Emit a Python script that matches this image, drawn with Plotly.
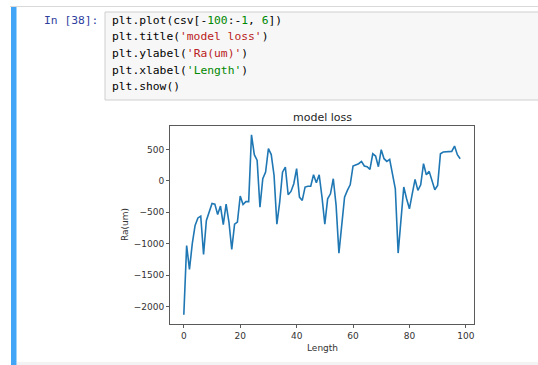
import plotly.graph_objects as go

# ---- data ----
length = list(range(99))
ra_um = [-2134, -1029, -1411, -1000, -710, -590, -560, -1170, -630, -500,
         -360, -370, -535, -400, -695, -370, -655, -1090, -690, -655,
         -240, -375, -330, -330, 735, 418, 327, -418, 35, 140,
         513, 420, 88, -690, -337, 140, 220, -220, -168, -45,
         195, -258, -311, -98, -85, -85, 98, -30, 98, -258,
         -690, -285, -205, 35, -390, -1150, -655, -258, -150, -62,
         237, 258, 274, 311, 237, 226, 183, 433, 396, 226,
         497, 354, 311, 343, 115, -125, -1150, -605, -98, -285,
         -445, -205, 25, -150, -62, 274, 98, 152, 8, -140,
         -72, 433, 460, 460, 470, 470, 555, 418, 354]
x_ticks = [0, 20, 40, 60, 80, 100]
y_ticks = [500, 0, -500, -1000, -1500, -2000]

title_text = "model loss"
ylabel = "Ra(um)"
xlabel = "Length"
prompt = "In [38]:"

W, H = 538, 365
L, R, T, B = 170, 474, 126, 324


def px(x):
    return (x - L) / (R - L)


def py(y):
    return (B - y) / (B - T)


fig = go.Figure()
fig.add_trace(go.Scatter(x=length, y=ra_um, mode="lines",
                         line=dict(color="#1f77b4", width=1.6),
                         hoverinfo="skip", showlegend=False))

axis_common = dict(showgrid=False, zeroline=False, showline=True, mirror=True,
                   linecolor="#5a5a5a", linewidth=1, ticks="outside", ticklen=3,
                   tickwidth=1, tickcolor="#5a5a5a",
                   tickfont=dict(family="DejaVu Sans", size=9, color="#333333"))

fig.update_layout(
    width=W, height=H,
    margin=dict(l=L, r=W - R, t=T, b=H - B, pad=0),
    paper_bgcolor="white", plot_bgcolor="white",
    xaxis=dict(range=[-4.9, 102.9], tickvals=x_ticks, **axis_common),
    yaxis=dict(range=[-2280, 875], tickvals=y_ticks, **axis_common),
)

shapes = []
# notebook cell top border
shapes.append(dict(type="line", xref="paper", yref="paper",
                   x0=px(10), x1=px(545), y0=py(6.5), y1=py(6.5),
                   line=dict(color="#d9d9d9", width=1)))
# selected-cell blue bar
shapes.append(dict(type="rect", xref="paper", yref="paper",
                   x0=px(11), x1=px(16.5), y0=py(7), y1=py(370),
                   fillcolor="#42A5F5", line=dict(width=0), layer="above"))
# code input box
shapes.append(dict(type="rect", xref="paper", yref="paper",
                   x0=px(105), x1=px(545), y0=py(12), y1=py(100),
                   fillcolor="#f7f7f7", line=dict(color="#cfcfcf", width=1)))
# bottom faint strip
shapes.append(dict(type="rect", xref="paper", yref="paper",
                   x0=px(17), x1=px(545), y0=py(362), y1=py(370),
                   fillcolor="#f3f3f3", line=dict(width=0)))
fig.update_layout(shapes=shapes)

mono = "DejaVu Sans Mono, Liberation Mono, monospace"
K = "#000000"
NUM = "#008800"
STR = "#BA2121"
GRN = "#008800"
code_lines = [
    f"<span style='color:{K}'>plt.plot(csv[-</span><span style='color:{NUM}'>100</span>"
    f"<span style='color:{K}'>:-</span><span style='color:{NUM}'>1</span>"
    f"<span style='color:{K}'>, </span><span style='color:{NUM}'>6</span><span style='color:{K}'>])</span>",
    f"<span style='color:{K}'>plt.title(</span><span style='color:{STR}'>'model loss'</span><span style='color:{K}'>)</span>",
    f"<span style='color:{K}'>plt.ylabel(</span><span style='color:{STR}'>'Ra(um)'</span><span style='color:{K}'>)</span>",
    f"<span style='color:{K}'>plt.xlabel(</span><span style='color:{GRN}'>'Length'</span><span style='color:{K}'>)</span>",
    f"<span style='color:{K}'>plt.show()</span>",
]
line_y = [20, 36.7, 53.3, 70, 86.5]

annotations = []
annotations.append(dict(text=prompt, xref="paper", yref="paper", x=px(100), y=py(20),
                        xanchor="right", yanchor="middle", showarrow=False,
                        font=dict(family=mono, size=11.3, color="#303F9F")))
for t, yy in zip(code_lines, line_y):
    annotations.append(dict(text=t, xref="paper", yref="paper", x=px(109.5), y=py(yy),
                            xanchor="left", yanchor="middle", showarrow=False, align="left",
                            font=dict(family=mono, size=11.3, color=K)))
annotations.append(dict(text=title_text, xref="paper", yref="paper", x=0.5, y=py(117),
                        xanchor="center", yanchor="middle", showarrow=False,
                        font=dict(family="DejaVu Sans", size=11, color="#262626")))
annotations.append(dict(text=xlabel, xref="paper", yref="paper", x=0.5, y=py(348),
                        xanchor="center", yanchor="middle", showarrow=False,
                        font=dict(family="DejaVu Sans", size=9, color="#333333")))
annotations.append(dict(text=ylabel, xref="paper", yref="paper", x=px(125), y=py(225),
                        xanchor="center", yanchor="middle", showarrow=False, textangle=-90,
                        font=dict(family="DejaVu Sans", size=9, color="#333333")))
fig.update_layout(annotations=annotations)

fig.write_html("out.html", config={"displayModeBar": False},
               post_script="document.body.style.margin='0';document.body.style.overflow='hidden';")
